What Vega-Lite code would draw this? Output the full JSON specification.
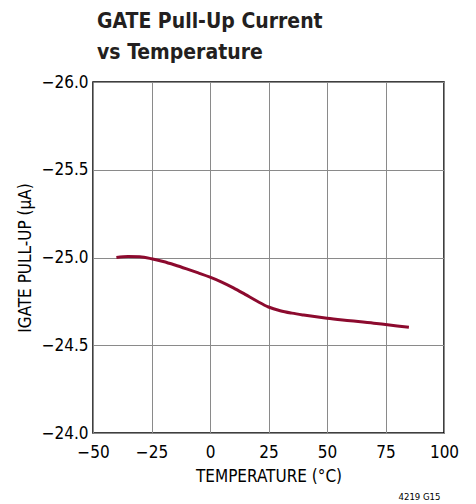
{
  "$schema": "https://vega.github.io/schema/vega-lite/v6.json",
  "autosize": {"type": "none"},
  "width": 351,
  "height": 351,
  "padding": {"left": 93, "top": 82, "right": 32, "bottom": 71},
  "background": "white",
  "config": {
    "font": "DejaVu Sans Condensed, Roboto, sans-serif",
    "view": {"stroke": "#000000", "strokeWidth": 1.5},
    "axis": {
      "domain": false,
      "ticks": false,
      "grid": true,
      "gridColor": "#8a8a8a",
      "gridWidth": 1,
      "gridOpacity": 1,
      "labelFlush": false,
      "labelFont": "DejaVu Sans Condensed, Roboto, sans-serif",
      "labelFontSize": 17,
      "labelColor": "#000000",
      "titleFont": "DejaVu Sans Condensed, Roboto, sans-serif",
      "titleFontSize": 17,
      "titleFontWeight": "normal",
      "titleColor": "#000000"
    }
  },
  "title": {
    "text": ["GATE Pull-Up Current", "vs Temperature"],
    "anchor": "start",
    "frame": "group",
    "font": "DejaVu Sans Condensed, Roboto, sans-serif",
    "fontSize": 21,
    "fontWeight": "bold",
    "color": "#231f20",
    "lineHeight": 31,
    "offset": 10,
    "dx": 4
  },
  "datasets": {
    "curve": [
      {"temp": -40, "current": -25.0},
      {"temp": -35, "current": -25.006},
      {"temp": -30, "current": -25.004},
      {"temp": -25, "current": -24.993},
      {"temp": -20, "current": -24.977},
      {"temp": -15, "current": -24.957},
      {"temp": -10, "current": -24.935},
      {"temp": -5, "current": -24.912},
      {"temp": 0, "current": -24.888},
      {"temp": 5, "current": -24.86},
      {"temp": 10, "current": -24.827},
      {"temp": 15, "current": -24.79},
      {"temp": 20, "current": -24.752},
      {"temp": 25, "current": -24.718},
      {"temp": 30, "current": -24.697},
      {"temp": 35, "current": -24.683},
      {"temp": 40, "current": -24.672},
      {"temp": 50, "current": -24.654},
      {"temp": 60, "current": -24.64},
      {"temp": 70, "current": -24.626},
      {"temp": 75, "current": -24.618},
      {"temp": 80, "current": -24.61},
      {"temp": 85, "current": -24.602}
    ],
    "note": [{"label": "4219 G15"}]
  },
  "layer": [
    {
      "data": {"name": "curve"},
      "mark": {"type": "line", "color": "#8c0a2e", "strokeWidth": 3, "interpolate": "monotone"},
      "encoding": {
        "x": {
          "field": "temp",
          "type": "quantitative",
          "scale": {"domain": [-50, 100], "nice": false, "zero": false},
          "axis": {
            "values": [-50, -25, 0, 25, 50, 75, 100],
            "title": "TEMPERATURE (°C)",
            "labelPadding": 11,
            "titlePadding": 8
          }
        },
        "y": {
          "field": "current",
          "type": "quantitative",
          "scale": {"domain": [-26, -24], "reverse": true, "nice": false, "zero": false},
          "axis": {
            "values": [-26, -25.5, -25, -24.5, -24],
            "format": ".1f",
            "title": "IGATE PULL-UP (µA)",
            "labelPadding": 5,
            "titlePadding": 7
          }
        }
      }
    },
    {
      "data": {"name": "note"},
      "mark": {"type": "text", "align": "right", "baseline": "middle", "fontSize": 9.5, "color": "#000000"},
      "encoding": {
        "x": {"datum": 98.5, "type": "quantitative"},
        "y": {"datum": -23.635, "type": "quantitative"},
        "text": {"field": "label"}
      }
    }
  ]
}
